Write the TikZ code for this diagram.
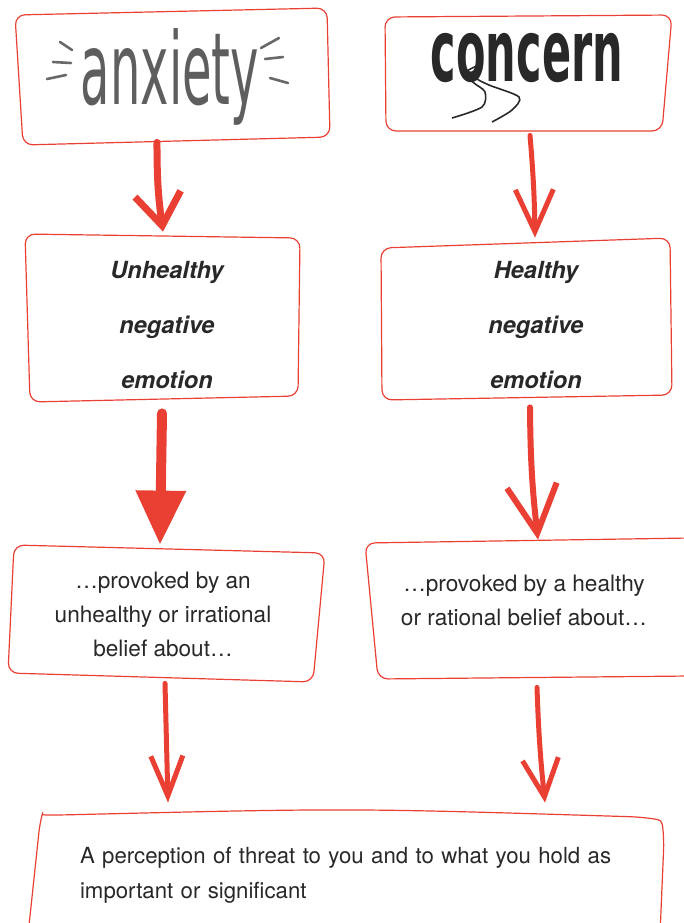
\documentclass[tikz,border=0pt]{standalone}
\usepackage{fontspec}
\setmainfont{TeX Gyre Heros}
\newfontfamily\headfont{DejaVu Sans}
\usetikzlibrary{arrows.meta}
\definecolor{sketchred}{RGB}{234,64,52}
\definecolor{inkgray}{RGB}{40,40,40}

\begin{document}
\begin{tikzpicture}[x=0.5pt,y=-0.5pt,
		box/.style={draw=none, inner sep=0pt, align=center, text=inkgray},
		outline/.style={draw=sketchred, line width=0.6pt, rounded corners=5pt},
		redarrow/.style={draw=sketchred, fill=sketchred, line cap=round, line join=round},
		scribble/.style={draw=inkgray!70, line width=1.3pt, line cap=round},
		emo/.style={font=\bfseries\itshape\fontsize{11.8}{27.5}\selectfont},
		belief/.style={font=\fontsize{11.3}{17}\selectfont}]
		\useasboundingbox (0,0) rectangle (684,923);
		
		% Nodes
		\node[box, text=inkgray!75, minimum width=156pt, minimum height=65pt] (anx) at (170,77)
			{\headfont\fontsize{50}{50}\selectfont\scalebox{0.48}[1]{anxiety}};
		\node[box, minimum width=137.5pt, minimum height=60pt, text depth=16pt] (con) at (527,73)
			{\headfont\bfseries\fontsize{43}{43}\selectfont\scalebox{0.5}[1]{concern}};
		\node[box, emo, minimum width=137.5pt, minimum height=93pt] (unh) at (167,325)
			{Unhealthy\\negative\\emotion};
		\node[box, emo, minimum width=145pt, minimum height=87pt] (hea) at (536,325)
			{Healthy\\negative\\emotion};
		\node[box, belief, minimum width=157.5pt, minimum height=69pt] (pl) at (163,614)
			{\ldots provoked by an\\unhealthy or irrational\\belief about\ldots};
		\node[box, belief, minimum width=160pt, minimum height=59pt] (pr) at (524,600)
			{\ldots provoked by a healthy\\or rational belief about\ldots};
		\node[box, belief, align=left, text width=272pt, minimum width=312pt, minimum height=60pt,
			font=\fontsize{11.1}{17.5}\selectfont] (bot) at (352,875)
			{A perception of threat to you and to what you hold as\\important or significant};
		
		% Outlines
		\draw[outline] (15,15) -- (327,8) -- (330,137) -- (23,145) -- cycle;
		\draw[outline] (385,17) -- (672,15) -- (662,131) -- (386,131) -- cycle;
		\draw[outline] (25,234) -- (300,238) -- (298,396) -- (30,402) -- cycle;
		\draw[outline] (381,248) -- (670,238) -- (672,395) -- (382,400) -- cycle;
		\draw[outline] (14,545) -- (325,553) -- (313,682) -- (8,673) -- cycle;
		\draw[outline] (690,538) -- (365,543) -- (378,679) -- (690,676);
		\draw[outline] (28,935) -- (40,822) .. controls (42,815) .. (60,815)
			.. controls (350,808) .. (640,817) .. controls (662,820) .. (664,840) -- (660,935);
		
		% Heading scribbles
		\draw[scribble] (60,42) -- (72,50) (53,62) -- (71,63) (47,79) -- (66,75);
		\draw[scribble] (261,48) -- (279,38) (265,59) -- (283,57) (270,78) -- (288,83);
		\draw[inkgray, line width=0.8pt] plot[smooth] coordinates
			{(479,65) (465,73) (474,83) (485,92) (482,107) (452,118)};
		\draw[inkgray, line width=0.8pt] plot[smooth] coordinates
			{(482,68) (475,77) (489,85) (519,97) (512,110) (492,122)};
		
		% Edges
		\draw[redarrow, line width=3.5pt, -{Straight Barb[length=16pt,width=23pt]}]
			([shift={(-13,0)}]anx.south) to[bend right=4] ([shift={(-4,0)}]unh.north);
		\draw[redarrow, line width=2.5pt, -{Straight Barb[length=21pt,width=19pt]}]
			([shift={(3,2)}]con.south) to[bend left=2] ([shift={(-1,0)}]hea.north);
		\draw[redarrow, line width=5pt, -{Triangle[length=27pt,width=24pt]}]
			([shift={(-5,-5)}]unh.south) to ([shift={(-3,0)}]pl.north);
		\draw[redarrow, line width=3pt, -{Straight Barb[length=24pt,width=25pt]}]
			([shift={(-6,-5)}]hea.south) to[bend right=3] ([shift={(14,-1)}]pr.north);
		\draw[redarrow, line width=2.5pt, -{Straight Barb[length=20pt,width=16pt]}]
			([shift={(2,0)}]pl.south) to ([shift={(-184,-12)}]bot.north);
		\draw[redarrow, line width=2.5pt, -{Straight Barb[length=19pt,width=18pt]}]
			([shift={(13,28)}]pr.south) to[bend right=2] ([shift={(193,-12)}]bot.north);
		
	\end{tikzpicture}
\end{document}
